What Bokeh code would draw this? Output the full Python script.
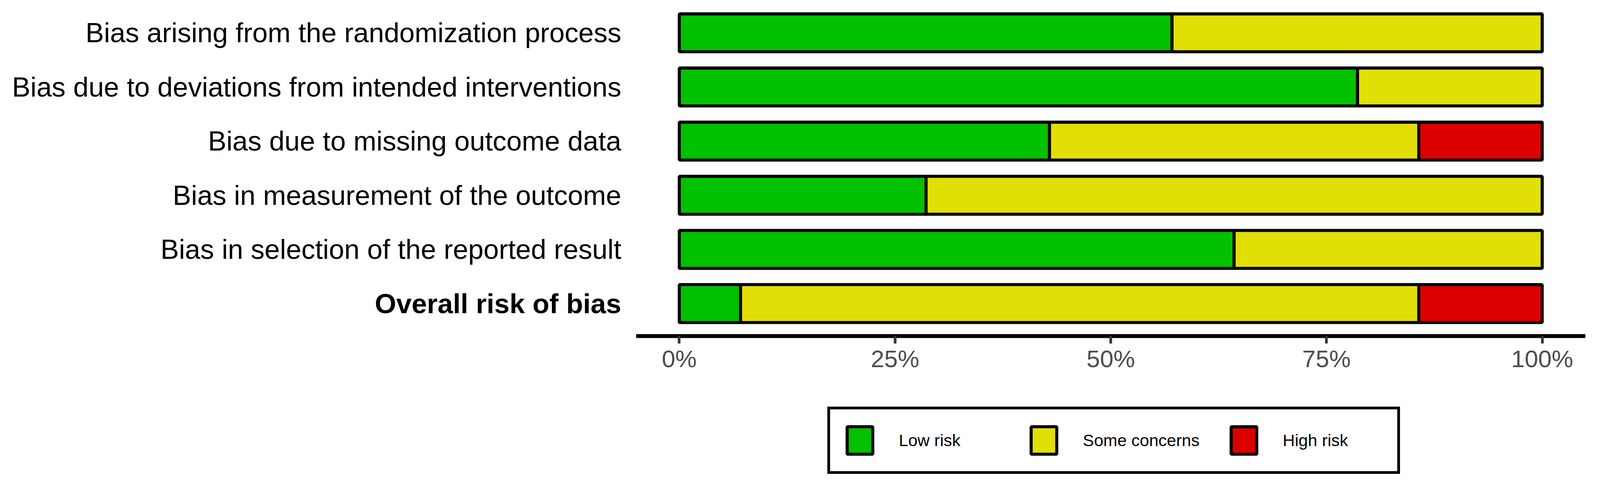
from bokeh.plotting import figure
from bokeh.models import (Range1d, ColumnDataSource, Legend, LegendItem,
                          FixedTicker)
from bokeh.layouts import row, column
from bokeh.embed import file_html
from bokeh.resources import INLINE
from bokeh.core.properties import value

# ---------------- data ----------------
domains = [
    "Bias arising from the randomization process",
    "Bias due to deviations from intended interventions",
    "Bias due to missing outcome data",
    "Bias in measurement of the outcome",
    "Bias in selection of the reported result",
    "Overall risk of bias",
]
low_risk = [57.1, 78.6, 42.9, 28.6, 64.3, 7.1]
some_concerns = [42.9, 21.4, 42.8, 71.4, 35.7, 78.6]
high_risk = [0.0, 0.0, 14.3, 0.0, 0.0, 14.3]
legend_labels = ["Low risk", "Some concerns", "High risk"]
tick_values = [0, 25, 50, 75, 100]
tick_labels = ["0%", "25%", "50%", "75%", "100%"]

colors = ["#02C100", "#E2DF07", "#DD0000"]
FONT = "Liberation Sans"
LW = 7.8

n = len(domains)
ypos = [n - i for i in range(n)]

l0 = [0.0] * n
r0 = low_risk
l1 = r0
r1 = [a + b for a, b in zip(l1, some_concerns)]
l2 = r1
r2 = [a + b for a, b in zip(l2, high_risk)]
segments = [("l0", "r0"), ("l1", "r1"), ("l2", "r2")]

src = ColumnDataSource(dict(y=ypos, l0=l0, r0=r0, l1=l1, r1=r1, l2=l2, r2=r2))

yr = Range1d(0.4, 6.545)

# ---------------- chart ----------------
p = figure(width=2460, height=1029,
           x_range=Range1d(-5, 105), y_range=yr,
           output_backend="svg", toolbar_location=None,
           y_axis_location=None,
           min_border_left=0, min_border_right=30,
           min_border_top=8, min_border_bottom=170)
p.xgrid.visible = False
p.ygrid.visible = False
p.outline_line_color = None

for k, (lk, rk) in enumerate(segments):
    p.hbar(y="y", left=lk, right=rk, height=0.7, source=src,
           fill_color=colors[k], line_color="black", line_width=LW)

xa = p.xaxis[0]
xa.ticker = FixedTicker(ticks=tick_values)
xa.major_label_overrides = {v: t for v, t in zip(tick_values, tick_labels)}
xa.axis_line_width = 9.8
xa.axis_line_color = "black"
xa.major_tick_line_width = 6.8
xa.major_tick_line_color = "#333333"
xa.major_tick_out = 19
xa.major_tick_in = 0
xa.minor_tick_line_color = None
xa.major_label_text_font = FONT
xa.major_label_text_font_size = "62px"
xa.major_label_text_color = "#4D4D4D"
xa.major_label_standoff = 4

# ---------------- domain labels ----------------
lp = figure(width=1628, height=1029,
            x_range=Range1d(0, 1), y_range=yr,
            output_backend="svg", toolbar_location=None,
            x_axis_location=None, y_axis_location=None,
            min_border_left=0, min_border_right=0,
            min_border_top=8, min_border_bottom=170)
lp.grid.visible = False
lp.outline_line_color = None

lp.text(x=[1] * (n - 1), y=ypos[:-1], text=domains[:-1],
        text_align="right", text_baseline="middle", x_offset=-38,
        text_font=value(FONT), text_font_size="70.5px", text_color="black")
lp.text(x=[1], y=ypos[-1:], text=domains[-1:],
        text_align="right", text_baseline="middle", x_offset=-38,
        text_font=value(FONT), text_font_size="70.5px", text_color="black",
        text_font_style="bold")

# ---------------- legend strip ----------------
# hidden copies of the bar renderers; they only feed the legend keys
lf = figure(width=4088, height=200,
            x_range=Range1d(0, 1), y_range=Range1d(10, 11),
            output_backend="svg", toolbar_location=None,
            x_axis_location=None, y_axis_location=None, min_border=0)
lf.grid.visible = False
lf.outline_line_color = None

keys = []
for k, (lk, rk) in enumerate(segments):
    keys.append(lf.hbar(y="y", left=lk, right=rk, height=0.7, source=src,
                        fill_color=colors[k], line_color="black", line_width=LW,
                        visible=False))

legend = Legend(
    items=[LegendItem(label=legend_labels[k], renderers=[keys[k]]) for k in range(3)],
    orientation="horizontal", location=(2118, 17),
    label_text_font=FONT, label_text_font_size="43px", label_text_color="black",
    glyph_width=82, glyph_height=88, label_standoff=59, label_width=258,
    spacing=72, padding=35, margin=0,
    border_line_color="black", border_line_width=LW, border_line_alpha=1.0,
    background_fill_color="white", background_fill_alpha=1.0,
    inactive_fill_alpha=0.0,
)
lf.add_layout(legend, "center")

layout = column(row(lp, p), lf)
open("out.html", "w").write(file_html(layout, INLINE))
